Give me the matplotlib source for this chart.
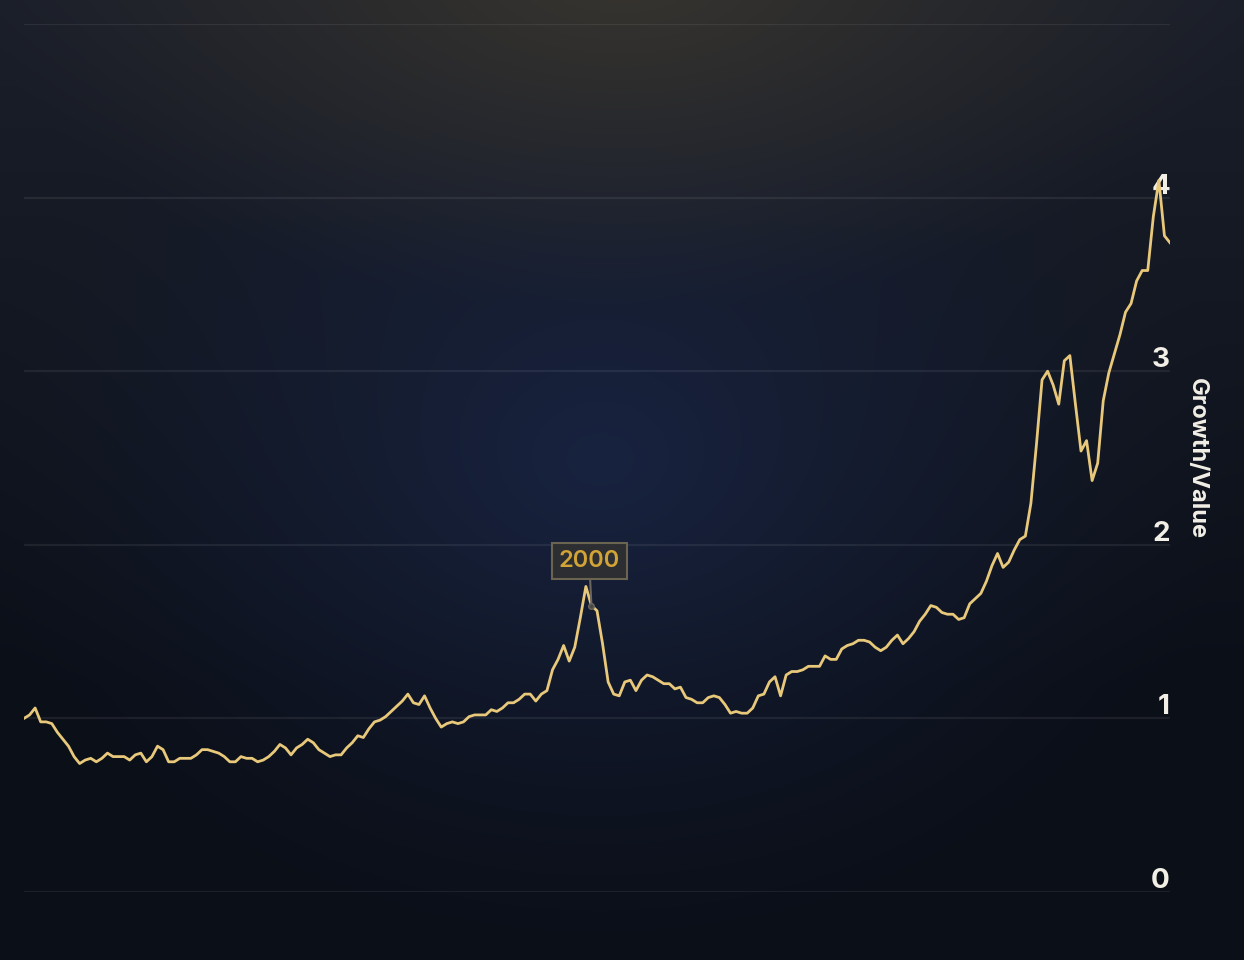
import numpy as np
import matplotlib
matplotlib.use('Agg')
import matplotlib.pyplot as plt

plt.rcParams['font.family'] = ['Inter', 'DejaVu Sans']

# Growth / Value ratio, one reading per quarter
start_year = 1974.5
ratio = [
    1.00, 1.02, 1.06, 0.98, 0.98, 0.97, 0.92, 0.88, 0.84, 0.78,
    0.74, 0.76, 0.77, 0.75, 0.77, 0.80, 0.78, 0.78, 0.78, 0.76,
    0.79, 0.80, 0.75, 0.78, 0.84, 0.82, 0.75, 0.75, 0.77, 0.77,
    0.77, 0.79, 0.82, 0.82, 0.81, 0.80, 0.78, 0.75, 0.75, 0.78,
    0.77, 0.77, 0.75, 0.76, 0.78, 0.81, 0.85, 0.83, 0.79, 0.83,
    0.85, 0.88, 0.86, 0.82, 0.80, 0.78, 0.79, 0.79, 0.83, 0.86,
    0.90, 0.89, 0.94, 0.98, 0.99, 1.01, 1.04, 1.07, 1.10, 1.14,
    1.09, 1.08,
    1.13, 1.06, 1.00, 0.95, 0.97, 0.98, 0.97, 0.98, 1.01, 1.02,
    1.02, 1.02, 1.05, 1.04, 1.06, 1.09, 1.09, 1.11, 1.14, 1.14,
    1.10, 1.14, 1.16, 1.28, 1.34, 1.42, 1.33, 1.41, 1.58, 1.76,
    1.65, 1.62, 1.43, 1.21, 1.14, 1.13, 1.21, 1.22, 1.16, 1.22,
    1.25, 1.24, 1.22, 1.20, 1.20, 1.17, 1.18, 1.12, 1.11, 1.09,
    1.09, 1.12, 1.13, 1.12, 1.08, 1.03, 1.04, 1.03, 1.03, 1.06,
    1.13, 1.14, 1.21, 1.24, 1.13, 1.25, 1.27, 1.27, 1.28,
    1.30, 1.30, 1.30, 1.36, 1.34, 1.34, 1.40, 1.42, 1.43, 1.45,
    1.45, 1.44, 1.41, 1.39, 1.41, 1.45, 1.48, 1.43, 1.46, 1.50,
    1.56, 1.60, 1.65, 1.64, 1.61, 1.60, 1.60, 1.57, 1.58, 1.66,
    1.69, 1.72, 1.79, 1.88, 1.95, 1.87, 1.90, 1.97, 2.03, 2.05,
    2.24, 2.58, 2.95, 3.00, 2.92, 2.81, 3.06, 3.09, 2.81, 2.54,
    2.60, 2.37, 2.47, 2.83, 2.99, 3.10, 3.21, 3.34, 3.39, 3.52,
    3.58, 3.58, 3.89, 4.10, 3.78, 3.74,
]
years = start_year + 0.25 * np.arange(len(ratio))

y_ticks = [0, 1, 2, 3, 4]
grid_levels = [0, 1, 2, 3, 4, 5]
note_year = 2000.0
note_label = '2000'
y_title = 'Growth/Value'

W, H = 1244, 960
fig = plt.figure(figsize=(W / 100, H / 100), dpi=100)

# background: dark vertical fade + blue glow in the middle + warm glow at top
yy, xx = np.mgrid[0:H, 0:W]
top = np.array([27, 31, 42]) / 255
bottom = np.array([11, 15, 24]) / 255
t = (yy / H)[..., None]
img = top + (bottom - top) * np.clip(t * 1.4, 0, 1)
blue = np.array([24, 35, 64]) / 255
d = np.sqrt(((xx - 600) / 640) ** 2 + ((yy - 460) / 500) ** 2)
w = np.clip(1 - d, 0, 1) ** 1.3
img = img + (blue - img) * w[..., None]
warm = np.array([56, 53, 47]) / 255
d = np.sqrt(((xx - 620) / 640) ** 2 + ((yy + 30) / 340) ** 2)
w = np.clip(1 - d, 0, 1) ** 1.1
img = img + (warm - img) * w[..., None]

bg = fig.add_axes([0, 0, 1, 1], zorder=-1)
bg.imshow(img, aspect='auto', extent=[0, 1, 0, 1])
bg.axis('off')

ax = fig.add_axes([24 / W, 68 / H, (1170 - 24) / W, (892 - 24) / H])
ax.set_facecolor('none')
ax.set_xlim(years[0], years[-1])
ax.set_ylim(0, 5)
for s in ax.spines.values():
    s.set_visible(False)
ax.set_xticks([])
ax.set_yticks([])

for g in grid_levels:
    ax.axhline(g, color='white', alpha=0.07, lw=1.6, zorder=1)

for tk in y_ticks:
    ax.text(1.0, tk - 0.012, str(tk), transform=ax.get_yaxis_transform(),
            ha='right', va='bottom', color='#f2efe6', fontsize=20,
            fontweight='bold', zorder=2)

ax.plot(years, ratio, color='#e8c87a', lw=2.0, zorder=3, solid_joinstyle='round')

i = int(np.argmin(np.abs(years - note_year)))
ax.annotate(note_label, xy=(years[i], ratio[i]), xytext=(years[i] - 0.1, 1.907),
            textcoords='data', ha='center', va='center', color='#d2a437',
            fontsize=17, fontweight='semibold', zorder=4,
            bbox=dict(boxstyle='square,pad=0.3', fc='#2c2e31', ec='#6b6450', lw=1.5),
            arrowprops=dict(arrowstyle='-', color='#6b675c', lw=1.5,
                            shrinkA=0, shrinkB=0))
ax.plot(years[i], ratio[i], 'o', ms=4, color='#4a4a48', mec='#6b675c', zorder=5)

fig.text(1197 / W, 1 - 458 / H, y_title, rotation=-90, ha='center', va='center',
         color='#f2efe6', fontsize=17, fontweight='bold')

fig.savefig('out.png', dpi=100)
